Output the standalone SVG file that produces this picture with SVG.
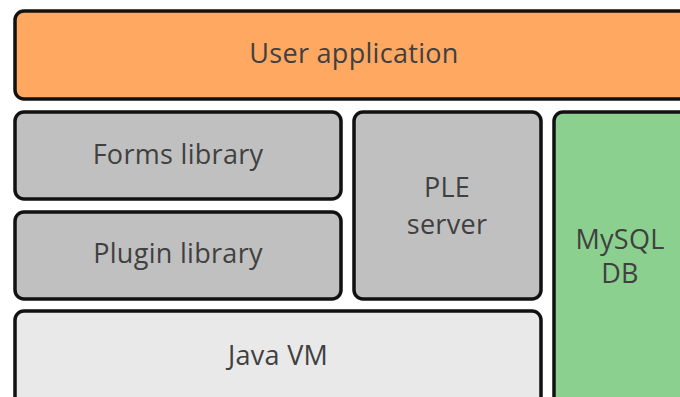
<svg xmlns="http://www.w3.org/2000/svg" width="680" height="397" viewBox="0 0 680 397">
<style>
.box{stroke:#111;stroke-width:3.5}
.lbl{font-family:"Open Sans","Liberation Sans",sans-serif;font-size:27px;fill:#404040;text-anchor:middle;letter-spacing:0.3px}
</style>
<rect width="680" height="397" fill="#fff"/>
<g id="user-application">
<rect class="box" x="15" y="11" width="690" height="88" rx="9" fill="#FFA862"/>
<text class="lbl" x="354" y="63">User application</text>
</g>
<g id="forms-library">
<rect class="box" x="15" y="112" width="326" height="87" rx="9" fill="#C0C0C0"/>
<text class="lbl" x="178" y="164">Forms library</text>
</g>
<g id="plugin-library">
<rect class="box" x="15" y="212" width="326" height="87" rx="9" fill="#C0C0C0"/>
<text class="lbl" x="178" y="263">Plugin library</text>
</g>
<g id="ple-server">
<rect class="box" x="354" y="112" width="187" height="187" rx="9" fill="#C0C0C0"/>
<text class="lbl" x="447" y="197">PLE</text>
<text class="lbl" x="447" y="234">server</text>
</g>
<g id="mysql-db">
<rect class="box" x="554" y="112" width="160" height="300" rx="9" fill="#8CD08F"/>
<text class="lbl" x="620" y="249">MySQL</text>
<text class="lbl" x="620" y="283">DB</text>
</g>
<g id="java-vm">
<rect class="box" x="15" y="311" width="526" height="100" rx="9" fill="#E9E9E9"/>
<text class="lbl" x="278" y="365">Java VM</text>
</g>
<g id="connectors"/>
</svg>
